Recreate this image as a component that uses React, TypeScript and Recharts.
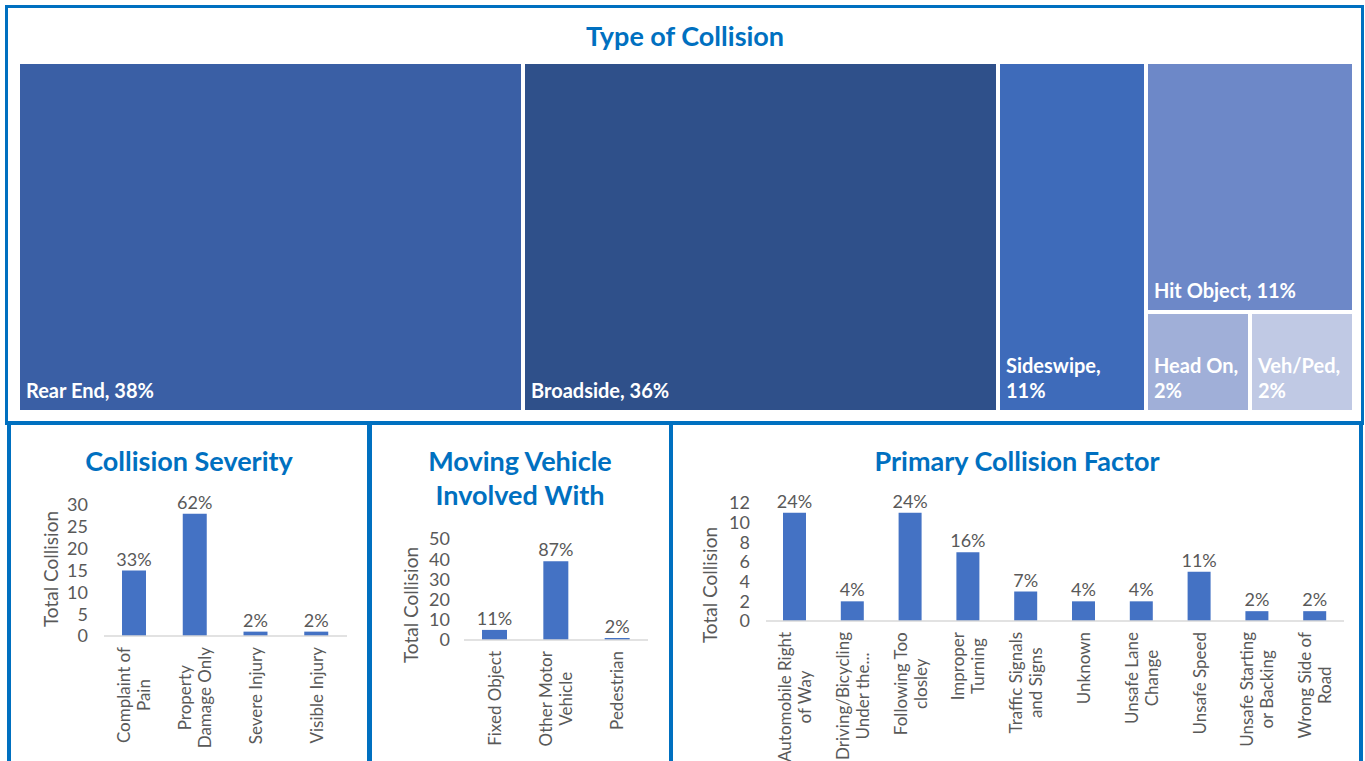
import React from 'react';
import { Treemap, BarChart, Bar, XAxis, YAxis, LabelList } from 'recharts';

const BLUE = '#0070C0';
const BAR = '#4472C4';
const GRAY = '#595959';
const AXIS = '#D9D9D9';
const FONT = 'Lato, "Open Sans", sans-serif';

// ---- Type of Collision (treemap) ----
const mainTypes = ['Rear End', 'Broadside', 'Sideswipe'];
const mainTypeCounts = [17, 16, 5];
const mainTypePct = ['38%', '36%', '11%'];
const otherTypes = ['Hit Object', 'Head On', 'Veh/Ped'];
const otherTypeCounts = [5, 1, 1];
const otherTypePct = ['11%', '2%', '2%'];
const typeColors: Record<string, string> = {
  'Rear End': '#3A5FA5',
  Broadside: '#2F508A',
  Sideswipe: '#3E6BBA',
  'Hit Object': '#6D88C8',
  'Head On': '#A0AFD8',
  'Veh/Ped': '#C0C9E4',
};

// ---- Collision Severity ----
const severityCats = ['Complaint of Pain', 'Property Damage Only', 'Severe Injury', 'Visible Injury'];
const severityCounts = [15, 28, 1, 1];
const severityPct = ['33%', '62%', '2%', '2%'];
const severityTickLines = [['Complaint of', 'Pain'], ['Property', 'Damage Only'], ['Severe Injury'], ['Visible Injury']];
const severityTicks = [0, 5, 10, 15, 20, 25, 30];

// ---- Moving Vehicle Involved With ----
const movingCats = ['Fixed Object', 'Other Motor Vehicle', 'Pedestrian'];
const movingCounts = [5, 39, 1];
const movingPct = ['11%', '87%', '2%'];
const movingTickLines = [['Fixed Object'], ['Other Motor', 'Vehicle'], ['Pedestrian']];
const movingTicks = [0, 10, 20, 30, 40, 50];

// ---- Primary Collision Factor ----
const factorCats = [
  'Automobile Right of Way',
  'Driving/Bicycling Under the...',
  'Following Too closley',
  'Improper Turning',
  'Traffic Signals and Signs',
  'Unknown',
  'Unsafe Lane Change',
  'Unsafe Speed',
  'Unsafe Starting or Backing',
  'Wrong Side of Road',
];
const factorCounts = [11, 2, 11, 7, 3, 2, 2, 5, 1, 1];
const factorPct = ['24%', '4%', '24%', '16%', '7%', '4%', '4%', '11%', '2%', '2%'];
const factorTickLines = [
  ['Automobile Right', 'of Way'],
  ['Driving/Bicycling', 'Under the...'],
  ['Following Too', 'closley'],
  ['Improper', 'Turning'],
  ['Traffic Signals', 'and Signs'],
  ['Unknown'],
  ['Unsafe Lane', 'Change'],
  ['Unsafe Speed'],
  ['Unsafe Starting', 'or Backing'],
  ['Wrong Side of', 'Road'],
];
const factorTicks = [0, 2, 4, 6, 8, 10, 12];

const treeData = [
  ...mainTypes.map((n, i) => ({ name: n, value: mainTypeCounts[i], pct: mainTypePct[i] })),
  {
    name: 'Other',
    children: otherTypes.map((n, i) => ({ name: n, value: otherTypeCounts[i], pct: otherTypePct[i] })),
  },
];

const buildRows = (cats: string[], counts: number[], pct: string[]) =>
  cats.map((c, i) => ({ name: c, value: counts[i], pct: pct[i] }));

const severityData = buildRows(severityCats, severityCounts, severityPct);
const movingData = buildRows(movingCats, movingCounts, movingPct);
const factorData = buildRows(factorCats, factorCounts, factorPct);

let ctx: CanvasRenderingContext2D | null = null;
function measure(text: string, font: string): number {
  if (!ctx) ctx = document.createElement('canvas').getContext('2d');
  if (!ctx) return text.length * 8;
  ctx.font = font;
  return ctx.measureText(text).width;
}

const renderCell = (props: any) => {
  const { x, y, width, height, depth, name, pct, children } = props;
  if (!depth || (children && children.length)) return null;
  const fs = 20;
  const font = `bold ${fs}px ${FONT}`;
  const full = `${name}, ${pct}`;
  const lines = measure(full, font) > width - 14 ? [`${name},`, pct] : [full];
  const lh = 25;
  const baseY = y + height - 14;
  return (
    <g>
      <rect x={x + 2} y={y + 2} width={Math.max(0, width - 4)} height={Math.max(0, height - 4)} fill={typeColors[name]} />
      <text fill="#FFFFFF" fontFamily={FONT} fontWeight="bold" fontSize={fs}>
        {lines.map((l, i) => (
          <tspan key={i} x={x + 8} y={baseY - (lines.length - 1 - i) * lh}>
            {l}
          </tspan>
        ))}
      </text>
    </g>
  );
};

const makeTick = (cats: string[], tickLines: string[][], gap: number) => (props: any) => {
  const { x, y, payload } = props;
  const idx = cats.indexOf(payload.value);
  const lines = idx >= 0 ? tickLines[idx] : [String(payload.value)];
  const fs = 17;
  const font = `${fs}px ${FONT}`;
  const maxW = Math.max(...lines.map((l) => measure(l, font)));
  const cx = -(gap + maxW / 2);
  const L = 20;
  return (
    <g transform={`translate(${x},${y})`}>
      <text transform="rotate(-90)" textAnchor="middle" fontSize={fs} fontFamily={FONT} fill={GRAY}>
        {lines.map((l, i) => (
          <tspan key={i} x={cx} y={(i - (lines.length - 1) / 2) * L + 6}>
            {l}
          </tspan>
        ))}
      </text>
    </g>
  );
};

const titleStyle: React.CSSProperties = {
  position: 'absolute',
  transform: 'translate(-50%, -50%)',
  color: BLUE,
  fontFamily: FONT,
  fontWeight: 'bold',
  fontSize: 27,
  whiteSpace: 'nowrap',
  textAlign: 'center',
  lineHeight: '34px',
};

const Title = ({ lines, cx, cy }: { lines: string[]; cx: number; cy: number }) => (
  <div style={{ ...titleStyle, left: cx, top: cy }}>
    {lines.map((l, i) => (
      <div key={i}>{l}</div>
    ))}
  </div>
);

const YLabel = ({ cx, cy }: { cx: number; cy: number }) => (
  <div
    style={{
      position: 'absolute',
      left: cx,
      top: cy,
      transform: 'translate(-50%, -50%) rotate(-90deg)',
      color: GRAY,
      fontFamily: FONT,
      fontSize: 19,
      whiteSpace: 'nowrap',
    }}
  >
    Total Collision
  </div>
);

const Panel = ({ left, top, width, height, bw }: { left: number; top: number; width: number; height: number; bw: number }) => (
  <div
    style={{
      position: 'absolute',
      left,
      top,
      width,
      height,
      boxSizing: 'border-box',
      border: `${bw}px solid ${BLUE}`,
    }}
  />
);

type ChartProps = {
  data: any[];
  cats: string[];
  tickLines: string[][];
  ticks: number[];
  width: number;
  height: number;
  left: number;
  top: number;
  yWidth: number;
  mTop: number;
  mRight: number;
  xHeight: number;
  barSize: number;
  tickMargin: number;
};

const SmallBar = (p: ChartProps) => (
  <div style={{ position: 'absolute', left: p.left, top: p.top }}>
    <BarChart
      width={p.width}
      height={p.height}
      data={p.data}
      margin={{ top: p.mTop, right: p.mRight, left: 0, bottom: 0 }}
    >
      <XAxis
        dataKey="name"
        interval={0}
        height={p.xHeight}
        tickLine={false}
        tickSize={0}
        tickMargin={0}
        axisLine={{ stroke: AXIS, strokeWidth: 1.5 }}
        tick={makeTick(p.cats, p.tickLines, 11)}
      />
      <YAxis
        width={p.yWidth}
        domain={[p.ticks[0], p.ticks[p.ticks.length - 1]]}
        ticks={p.ticks}
        interval={0}
        tickLine={false}
        axisLine={false}
        tickSize={6}
        tickMargin={p.tickMargin}
        tick={{ fill: GRAY, fontSize: 18, fontFamily: FONT }}
      />
      <Bar dataKey="value" fill={BAR} barSize={p.barSize} isAnimationActive={false}>
        <LabelList dataKey="pct" position="top" offset={5} fill={GRAY} fontSize={18} fontFamily={FONT} />
      </Bar>
    </BarChart>
  </div>
);

export default function App() {
  return (
    <div
      style={{
        position: 'absolute',
        left: 0,
        top: 0,
        width: 1365,
        height: 761,
        overflow: 'hidden',
        background: '#FFFFFF',
        fontFamily: FONT,
      }}
    >
      {/* Top panel */}
      <Panel left={5} top={5} width={1359} height={420} bw={3} />
      <Title lines={['Type of Collision']} cx={685} cy={36} />
      <div style={{ position: 'absolute', left: 18, top: 62 }}>
        <Treemap
          width={1336}
          height={350}
          data={treeData}
          dataKey="value"
          nameKey="name"
          aspectRatio={0.9}
          isAnimationActive={false}
          content={renderCell as any}
        />
      </div>

      {/* Bottom panels */}
      <Panel left={7} top={421} width={365} height={360} bw={4} />
      <Panel left={367} top={421} width={306} height={360} bw={4} />
      <Panel left={669} top={421} width={694} height={360} bw={4} />

      <Title lines={['Collision Severity']} cx={189} cy={461} />
      <YLabel cx={50} cy={569} />
      <SmallBar
        data={severityData}
        cats={severityCats}
        tickLines={severityTickLines}
        ticks={severityTicks}
        left={10}
        top={480}
        width={350}
        height={281}
        yWidth={94}
        mTop={25}
        mRight={13}
        xHeight={125}
        barSize={24}
        tickMargin={10}
      />

      <Title lines={['Moving Vehicle', 'Involved With']} cx={520} cy={478} />
      <YLabel cx={410} cy={605} />
      <SmallBar
        data={movingData}
        cats={movingCats}
        tickLines={movingTickLines}
        ticks={movingTicks}
        left={374}
        top={520}
        width={290}
        height={241}
        yWidth={90}
        mTop={19}
        mRight={16}
        xHeight={121}
        barSize={25}
        tickMargin={8}
      />

      <Title lines={['Primary Collision Factor']} cx={1017} cy={461} />
      <YLabel cx={709} cy={585} />
      <SmallBar
        data={factorData}
        cats={factorCats}
        tickLines={factorTickLines}
        ticks={factorTicks}
        left={676}
        top={480}
        width={682}
        height={281}
        yWidth={90}
        mTop={23}
        mRight={14}
        xHeight={140}
        barSize={23}
        tickMargin={10}
      />
    </div>
  );
}
